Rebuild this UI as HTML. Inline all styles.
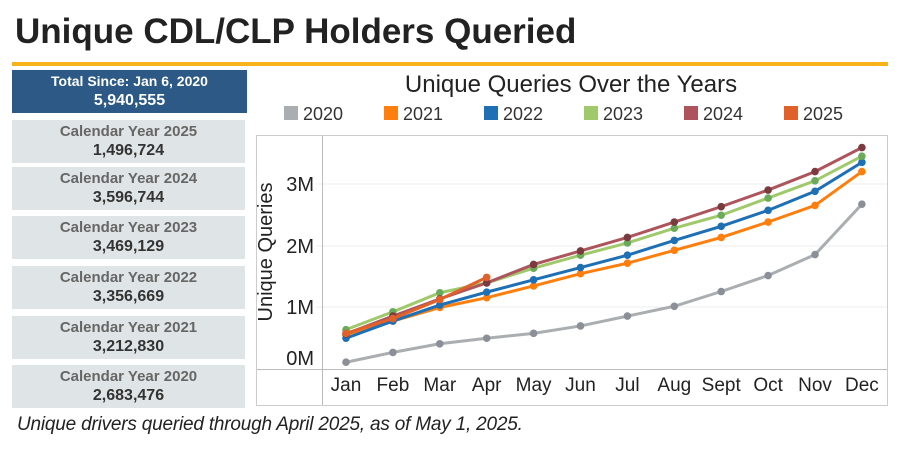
<!DOCTYPE html>
<html><head><style>
body{margin:0;width:900px;height:450px;background:#fff;font-family:"Liberation Sans",sans-serif;overflow:hidden;position:relative}
.t{position:absolute;left:15px;top:12px;font-size:35px;font-weight:bold;color:#222;white-space:nowrap}
.bar{position:absolute;left:12px;top:62px;width:876px;height:4px;background:#f7b21c}
.blue{position:absolute;left:12px;top:70px;width:235px;height:43px;background:#2c5985;color:#fff;text-align:center;font-weight:bold;font-size:14px;line-height:19px;padding-top:2px;box-sizing:border-box}
.blue b{font-size:16px}
.g{position:absolute;left:12px;width:233px;height:43px;background:#dfe5e6;text-align:center;font-weight:bold;box-sizing:border-box;padding-top:3px}
.g .a{font-size:15px;color:#666;line-height:18px}
.g .b{font-size:16px;color:#333;line-height:20px}
.note{position:absolute;left:17px;top:414px;font-size:19px;font-style:italic;color:#222;white-space:nowrap;letter-spacing:-0.2px}
</style></head><body>
<div class="t">Unique CDL/CLP Holders Queried</div>
<div class="bar"></div>
<div class="blue">Total Since: Jan 6, 2020<br><b>5,940,555</b></div>
<div class="g" style="top:120px"><div class="a">Calendar Year 2025</div><div class="b">1,496,724</div></div>
<div class="g" style="top:167px"><div class="a">Calendar Year 2024</div><div class="b">3,596,744</div></div>
<div class="g" style="top:216px"><div class="a">Calendar Year 2023</div><div class="b">3,469,129</div></div>
<div class="g" style="top:266px"><div class="a">Calendar Year 2022</div><div class="b">3,356,669</div></div>
<div class="g" style="top:316px"><div class="a">Calendar Year 2021</div><div class="b">3,212,830</div></div>
<div class="g" style="top:365px"><div class="a">Calendar Year 2020</div><div class="b">2,683,476</div></div>
<div class="note">Unique drivers queried through April 2025, as of May 1, 2025.</div>
<svg width="900" height="450" style="position:absolute;left:0;top:0" id="s" font-family="Liberation Sans, sans-serif">
<text x="571" y="92" font-size="24" text-anchor="middle" fill="#222">Unique Queries Over the Years</text>
<g font-size="18" fill="#333">
<rect x="284" y="106" width="14" height="14" fill="#aaaeb0"/><text x="303" y="120">2020</text>
<rect x="384" y="106" width="14" height="14" fill="#ff7f0e"/><text x="403" y="120">2021</text>
<rect x="484" y="106" width="14" height="14" fill="#1f6fb4"/><text x="503" y="120">2022</text>
<rect x="584" y="106" width="14" height="14" fill="#9fc96b"/><text x="603" y="120">2023</text>
<rect x="684" y="106" width="14" height="14" fill="#ad545c"/><text x="703" y="120">2024</text>
<rect x="784" y="106" width="14" height="14" fill="#e0622a"/><text x="803" y="120">2025</text>
</g>
<rect x="256.5" y="135.5" width="631" height="270" fill="none" stroke="#ccc"/>
<g stroke="#eee"><line x1="316" x2="887" y1="184" y2="184"/><line x1="316" x2="887" y1="246" y2="246"/><line x1="316" x2="887" y1="307" y2="307"/></g>
<line x1="322.5" y1="136" x2="322.5" y2="405" stroke="#bbb"/>
<line x1="257" y1="369.5" x2="887" y2="369.5" stroke="#bbb"/>
<g font-size="20" fill="#222" text-anchor="end"><text x="314" y="191">3M</text><text x="314" y="253">2M</text><text x="314" y="314">1M</text><text x="314" y="365">0M</text></g>
<text transform="translate(272,252) rotate(-90)" font-size="20" fill="#222" text-anchor="middle">Unique Queries</text>
<g id="mx" font-size="19" fill="#222" text-anchor="middle"></g>
<g id="ln"></g>
</svg>
<script>
var m=["Jan","Feb","Mar","Apr","May","Jun","Jul","Aug","Sept","Oct","Nov","Dec"];
var ns="http://www.w3.org/2000/svg";
function X(i){return 346+i*46.9;}function Y(v){return 369-61.5*v;}
var mx=document.getElementById("mx");
m.forEach(function(t,i){var e=document.createElementNS(ns,"text");e.setAttribute("x",X(i));e.setAttribute("y",391);e.textContent=t;mx.appendChild(e);});
var S=[
["#aaaeb0","#8a8f98",[.11,.27,.41,.5,.58,.7,.86,1.02,1.26,1.52,1.86,2.68]],
["#ff7f0e","#ff7f0e",[.56,.78,1.0,1.16,1.35,1.55,1.72,1.93,2.14,2.39,2.66,3.21]],
["#1f6fb4","#1f6fb4",[.5,.78,1.04,1.25,1.45,1.65,1.85,2.09,2.32,2.58,2.89,3.36]],
["#9fc96b","#6aaa5a",[.64,.93,1.24,1.40,1.64,1.85,2.05,2.29,2.50,2.78,3.06,3.46]],
["#ad545c","#7a3b3f",[.57,.86,1.14,1.40,1.70,1.92,2.14,2.39,2.64,2.91,3.21,3.60]],
["#e0622a","#e0622a",[.58,.82,1.13,1.49]]];
var g=document.getElementById("ln");
S.forEach(function(s){var p=s[2].map(function(v,i){return X(i)+","+Y(v)}).join(" ");
var l=document.createElementNS(ns,"polyline");l.setAttribute("points",p);l.setAttribute("fill","none");l.setAttribute("stroke",s[0]);l.setAttribute("stroke-width","3");g.appendChild(l);
s[2].forEach(function(v,i){var c=document.createElementNS(ns,"circle");c.setAttribute("cx",X(i));c.setAttribute("cy",Y(v));c.setAttribute("r","3.8");c.setAttribute("fill",s[1]);g.appendChild(c);});});
</script>
</body></html>
